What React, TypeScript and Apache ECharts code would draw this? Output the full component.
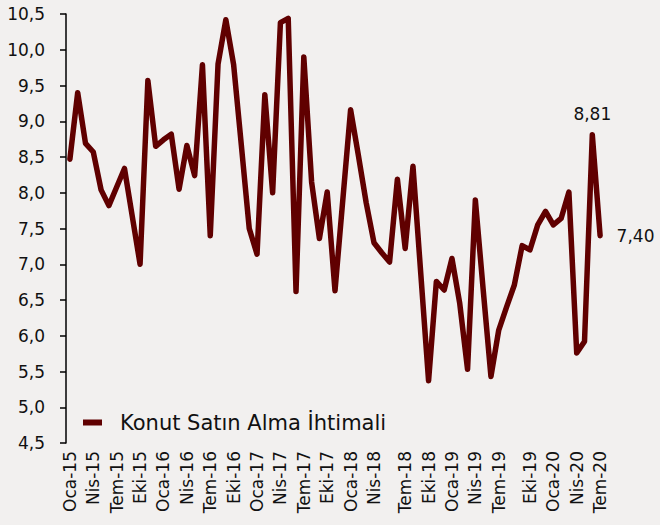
import React, { useEffect, useRef } from "react";
import * as echarts from "echarts";

const categories: string[] = [
  "Oca-15", "Şub-15", "Mar-15", "Nis-15", "May-15", "Haz-15", "Tem-15", "Ağu-15", "Eyl-15", "Eki-15", "Kas-15", "Ara-15",
  "Oca-16", "Şub-16", "Mar-16", "Nis-16", "May-16", "Haz-16", "Tem-16", "Ağu-16", "Eyl-16", "Eki-16", "Kas-16", "Ara-16",
  "Oca-17", "Şub-17", "Mar-17", "Nis-17", "May-17", "Haz-17", "Tem-17", "Ağu-17", "Eyl-17", "Eki-17", "Kas-17", "Ara-17",
  "Oca-18", "Şub-18", "Mar-18", "Nis-18", "May-18", "Haz-18", "Haz-18b", "Tem-18", "Ağu-18", "Eyl-18", "Eki-18", "Kas-18", "Ara-18",
  "Oca-19", "Şub-19", "Mar-19", "Nis-19", "May-19", "Haz-19", "Tem-19", "Ağu-19", "Eyl-19", "Eyl-19b", "Eki-19", "Kas-19", "Ara-19",
  "Oca-20", "Şub-20", "Mar-20", "Nis-20", "May-20", "Haz-20", "Tem-20",
];

const tickLabels: string[] = [
  "Oca-15", "Nis-15", "Tem-15", "Eki-15", "Oca-16", "Nis-16", "Tem-16", "Eki-16",
  "Oca-17", "Nis-17", "Tem-17", "Eki-17", "Oca-18", "Nis-18", "Tem-18", "Eki-18",
  "Oca-19", "Nis-19", "Tem-19", "Eki-19", "Oca-20", "Nis-20", "Tem-20",
];

const values: number[] = [
  8.47, 9.40, 8.69, 8.57, 8.04, 7.82, 8.08, 8.34, 7.67, 7.00, 9.57, 8.65,
  8.74, 8.82, 8.05, 8.66, 8.24, 9.79, 7.40, 9.80, 10.42, 9.79, 8.65, 7.50,
  7.14, 9.37, 8.00, 10.38, 10.44, 6.62, 9.90, 8.15, 7.36, 8.01, 6.63, 7.90,
  9.16, 8.52, 7.86, 7.30, 7.16, 7.03, 8.19, 7.22, 8.37, 6.87, 5.37, 6.76, 6.64,
  7.08, 6.45, 5.53, 7.90, 6.65, 5.43, 6.08, 6.40, 6.71, 7.26, 7.20, 7.55, 7.74,
  7.55, 7.64, 8.01, 5.76, 5.92, 8.81, 7.40,
];

const seriesName = "Konut Satın Alma İhtimali";
const labelTopIndex = 67;
const labelRightIndex = 68;

const fmt = (v: number, d: number) => v.toFixed(d).replace(".", ",");

export default function App() {
  const ref = useRef<HTMLDivElement>(null);
  useEffect(() => {
    if (!ref.current) return;
    const chart = echarts.init(ref.current, null, { renderer: "svg" });
    const font = "DejaVu Sans";
    const data = values.map((v, i) => {
      if (i === labelTopIndex) {
        return {
          value: v,
          label: { show: true, position: "top", distance: 12, formatter: fmt(v, 2), fontSize: 17, color: "#111", fontFamily: font },
        };
      }
      if (i === labelRightIndex) {
        return {
          value: v,
          label: { show: true, position: "right", distance: 16, formatter: fmt(v, 2), fontSize: 17, color: "#111", fontFamily: font },
        };
      }
      return v;
    });
    chart.setOption({
      animation: false,
      backgroundColor: "#f2f0ef",
      textStyle: { fontFamily: font },
      grid: { left: 66, top: 14, width: 538, height: 429 },
      legend: {
        data: [seriesName],
        left: 78,
        top: 407,
        icon: "rect",
        itemWidth: 19,
        itemHeight: 6,
        textStyle: { fontSize: 21, color: "#111", fontFamily: font, padding: [0, 0, 0, 13] },
      },
      xAxis: {
        type: "category",
        data: categories,
        boundaryGap: true,
        axisLine: { show: false },
        axisTick: { show: false },
        axisLabel: {
          rotate: 90,
          margin: 8,
          fontSize: 17,
          color: "#111",
          fontFamily: font,
          interval: (_i: number, v: string) => tickLabels.includes(v),
        },
      },
      yAxis: {
        type: "value",
        min: 4.5,
        max: 10.5,
        interval: 0.5,
        axisLine: { show: true, lineStyle: { color: "#000", width: 1.5 } },
        axisTick: { show: true, length: 6, lineStyle: { color: "#000", width: 1.5 } },
        splitLine: { show: false },
        axisLabel: { margin: 21, fontSize: 17, color: "#111", fontFamily: font, formatter: (v: number) => fmt(v, 1) },
      },
      series: [
        {
          name: seriesName,
          type: "line",
          data,
          symbol: "circle",
          symbolSize: 1,
          showSymbol: true,
          showAllSymbol: true,
          color: "#600000",
          itemStyle: { color: "#600000" },
          lineStyle: { width: 5.5, color: "#600000", join: "round", cap: "round" },
        },
      ],
    });
    return () => chart.dispose();
  }, []);
  return <div ref={ref} style={{ position: "fixed", left: 0, top: 0, width: 660, height: 525 }} />;
}
